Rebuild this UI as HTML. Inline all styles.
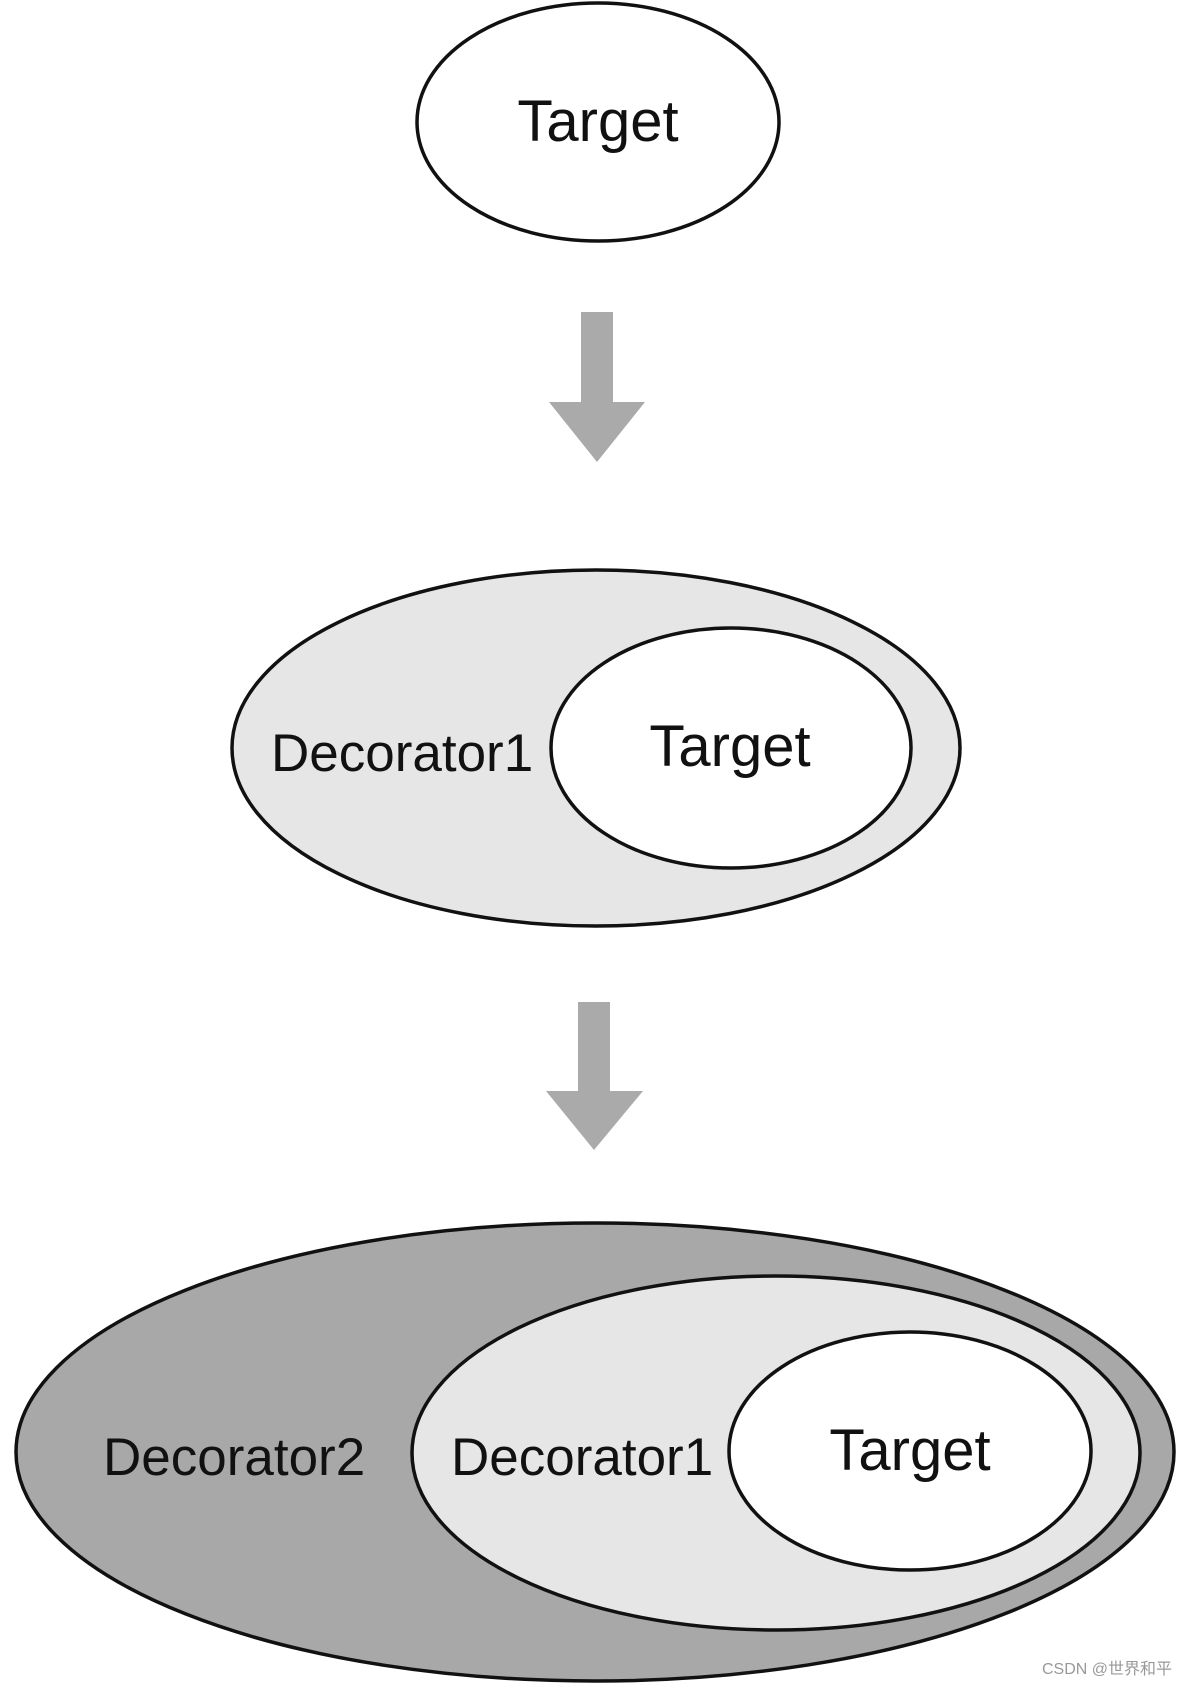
<!DOCTYPE html>
<html><head><meta charset="utf-8"><style>
html,body{margin:0;padding:0;background:#fff;}
svg{display:block;}
text{font-family:"Liberation Sans",Arial,sans-serif;fill:#111;}
</style></head><body>
<svg width="1186" height="1690" viewBox="0 0 1186 1690" xmlns="http://www.w3.org/2000/svg">
<ellipse cx="598" cy="122" rx="181" ry="119" fill="#fff" stroke="#111" stroke-width="3.5"/>
<text x="598" y="141" font-size="58" text-anchor="middle">Target</text>
<polygon points="581,312 613,312 613,402 645,402 597,462 549,402 581,402" fill="#aaa"/>
<ellipse cx="596" cy="748" rx="364" ry="178" fill="#e6e6e6" stroke="#111" stroke-width="3.5"/>
<ellipse cx="731" cy="748" rx="180" ry="120" fill="#fff" stroke="#111" stroke-width="3.5"/>
<text x="271" y="771" font-size="53">Decorator1</text>
<text x="730" y="766" font-size="58" text-anchor="middle">Target</text>
<polygon points="578,1002 610,1002 610,1091 643,1091 594,1150 546,1091 578,1091" fill="#aaa"/>
<ellipse cx="595" cy="1452" rx="579" ry="229" fill="#a8a8a8" stroke="#111" stroke-width="3.5"/>
<ellipse cx="776" cy="1453" rx="364" ry="177" fill="#e6e6e6" stroke="#111" stroke-width="3.5"/>
<ellipse cx="910" cy="1451" rx="181" ry="119" fill="#fff" stroke="#111" stroke-width="3.5"/>
<text x="103" y="1475" font-size="53">Decorator2</text>
<text x="451" y="1475" font-size="53">Decorator1</text>
<text x="910" y="1470" font-size="58" text-anchor="middle">Target</text>
<text x="1172" y="1674" font-size="16" text-anchor="end" style="fill:#999;font-family:'Liberation Sans','Noto Sans CJK SC',sans-serif">CSDN @世界和平</text>
</svg>
</body></html>
